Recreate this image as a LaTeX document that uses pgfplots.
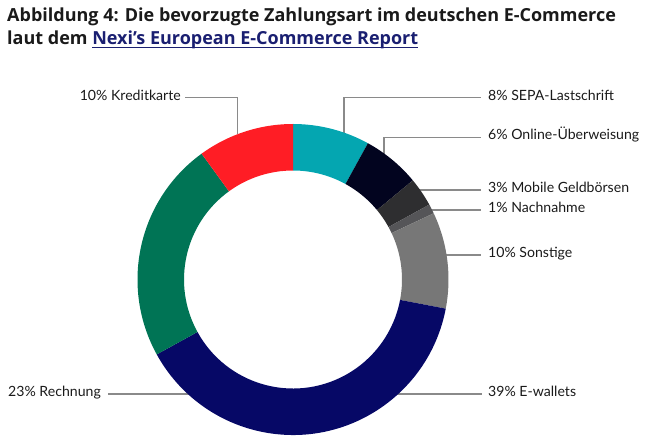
\documentclass[border=0pt]{standalone}
\usepackage{pgfplots}
\usepackage{pgfplotstable}
\pgfplotsset{compat=1.18}
\usepackage{fontspec}
\setmainfont{Lato}
\newfontfamily\titlefont{Open Sans}
\definecolor{cTeal}{HTML}{04A6B1}
\definecolor{cBlack}{HTML}{02041F}
\definecolor{cDark}{HTML}{2E2E30}
\definecolor{cMid}{HTML}{555558}
\definecolor{cGray}{HTML}{777777}
\definecolor{cNavy}{HTML}{060866}
\definecolor{cGreen}{HTML}{007455}
\definecolor{cRed}{HTML}{FF1D25}
\definecolor{cLine}{HTML}{8A8A8A}
\definecolor{cText}{HTML}{1A1A1A}
\definecolor{cLink}{HTML}{1A1F71}
\newcommand\ul[1]{\setbox0\hbox{#1}\rlap{\rule[-2.8pt]{\wd0}{1.2pt}}\box0}
\pgfplotstableread{
share col
8 cTeal
6 cBlack
3 cDark
1 cMid
10 cGray
39 cNavy
23 cGreen
10 cRed
}\donutdata
\begin{document}
\begin{tikzpicture}
\useasboundingbox (0,0) rectangle (650pt,444pt);
\begin{axis}[at={(0,0)}, anchor=south west, scale only axis,
  width=650pt, height=444pt, xmin=0, xmax=650, ymin=0, ymax=444,
  hide axis, clip=false]
% leader lines
\draw[cLine, line width=1.3pt] (axis cs:185,346.3) -- (axis cs:237.7,346.3) -- (axis cs:237.7,310);
\draw[cLine, line width=1.3pt] (axis cs:344,310) -- (axis cs:344,346.3) -- (axis cs:481,346.3);
\draw[cLine, line width=1.3pt] (axis cs:384,290) -- (axis cs:384,306.7) -- (axis cs:481,306.7);
\draw[cLine, line width=1.3pt] (axis cs:415,254) -- (axis cs:481,254);
\draw[cLine, line width=1.3pt] (axis cs:425,234) -- (axis cs:481,234);
\draw[cLine, line width=1.3pt] (axis cs:440,189) -- (axis cs:481,189);
\draw[cLine, line width=1.3pt] (axis cs:390,50) -- (axis cs:482,50);
\draw[cLine, line width=1.3pt] (axis cs:108,50) -- (axis cs:195,50);
% donut
\pgfplotsextra{%
  \pgfplotstablegetrowsof{\donutdata}%
  \pgfmathtruncatemacro\lastrow{\pgfplotsretval-1}%
  \gdef\cum{0}%
  \foreach \i in {0,...,\lastrow}{%
    \pgfplotstablegetelem{\i}{share}\of{\donutdata}\let\sh\pgfplotsretval
    \pgfplotstablegetelem{\i}{col}\of{\donutdata}\let\cl\pgfplotsretval
    \pgfmathsetmacro\sa{90-3.6*\cum}%
    \pgfmathsetmacro\ea{90-3.6*(\cum+\sh)}%
    \pgfmathsetmacro\newcum{\cum+\sh}\global\let\cum\newcum
    \fill[fill=\cl, shift={(axis cs:293,164.5)}] (\sa:155.5pt) arc[start angle=\sa, end angle=\ea, radius=155.5pt]
      -- (\ea:109pt) arc[start angle=\ea, end angle=\sa, radius=109pt] -- cycle;
  }%
}
% labels
\pgfplotsextra{%
\begin{scope}[every node/.style={font=\fontsize{14.1}{16}\selectfont, text=cText, inner sep=0pt}]
\node[anchor=mid east] at (axis cs:181,346.3) {10\% Kreditkarte};
\node[anchor=mid west] at (axis cs:488,346.3) {8\% SEPA-Lastschrift};
\node[anchor=mid west] at (axis cs:488,306.7) {6\% Online-Überweisung};
\node[anchor=mid west] at (axis cs:488,254) {3\% Mobile Geldbörsen};
\node[anchor=mid west] at (axis cs:488,234) {1\% Nachnahme};
\node[anchor=mid west] at (axis cs:488,189) {10\% Sonstige};
\node[anchor=mid west] at (axis cs:488,50) {39\% E-wallets};
\node[anchor=mid east] at (axis cs:101,50) {23\% Rechnung};
\end{scope}
\node[anchor=base west, inner sep=0pt, text=cText, font=\titlefont\bfseries\fontsize{18}{20}\selectfont] at (axis cs:7,422.5) {Abbildung 4: Die bevorzugte Zahlungsart im deutschen E-Commerce};
\node[anchor=base west, inner sep=0pt, text=cText, font=\titlefont\bfseries\fontsize{18}{20}\selectfont] at (axis cs:7,399) {laut dem \textcolor{cLink}{\ul{Nexi’s European E-Commerce Report}}};
}
\end{axis}
\end{tikzpicture}
\end{document}
